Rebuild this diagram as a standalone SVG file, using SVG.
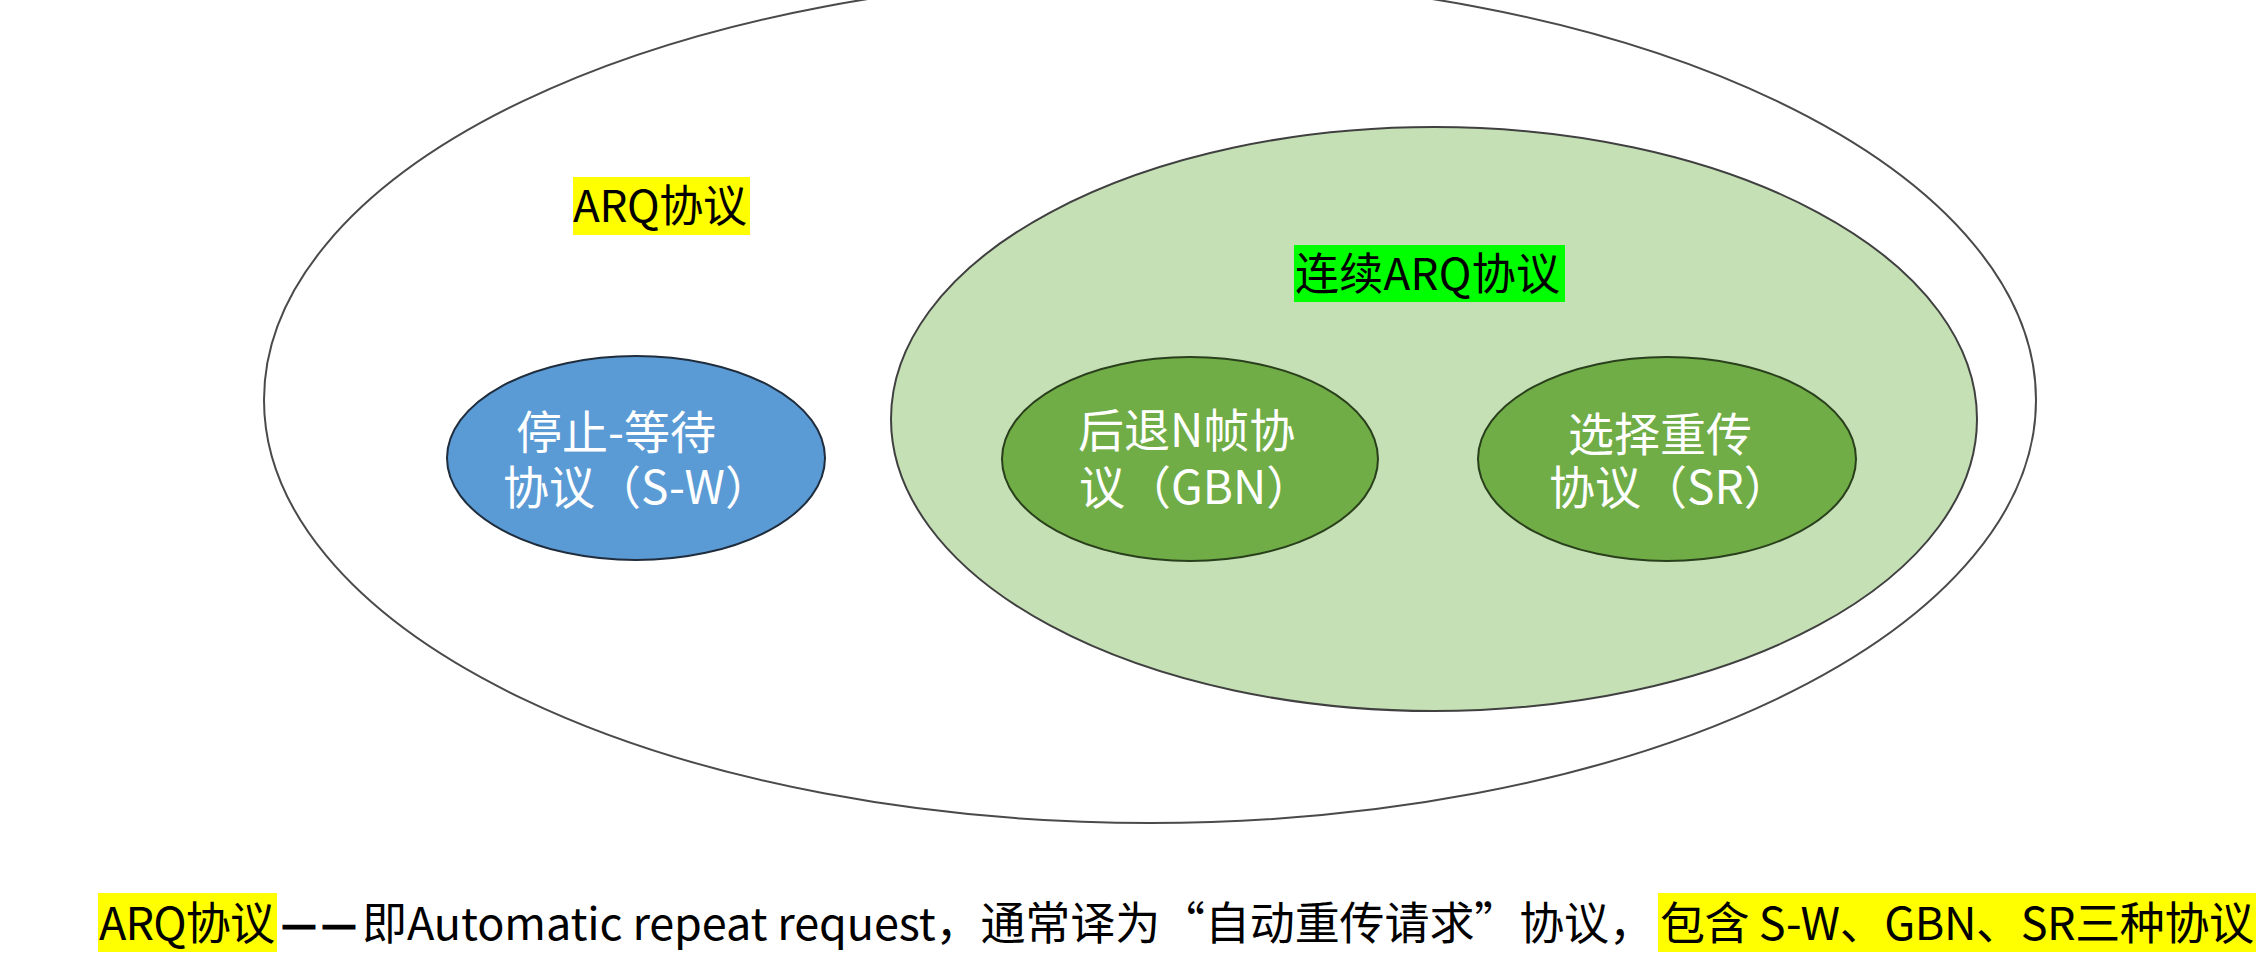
<svg xmlns="http://www.w3.org/2000/svg" width="2268" height="970" viewBox="0 0 2268 970">
  <style>
    .t { font-family: "Noto Sans CJK SC", "Noto Sans", sans-serif; }
    .w { fill: #ffffff; font-size: 46px; }
    .k { fill: #000000; font-size: 44px; }
    .b { fill: #000000; font-size: 45px; }
    .outer { fill: #ffffff; stroke: #4a4a4a; stroke-width: 2; }
    .cont { fill: #C5E0B4; stroke: #404040; stroke-width: 2; }
    .sw { fill: #5B9BD5; stroke: #1f2d3d; stroke-width: 2; }
    .gn { fill: #70AD47; stroke: #2a3f1c; stroke-width: 2; }
  </style>
  <rect x="0" y="0" width="2268" height="970" fill="#ffffff"/>

  <g id="arq">
    <ellipse class="outer" cx="1150" cy="400" rx="886" ry="423"/>
    <rect x="573" y="177" width="177" height="58" fill="#FFFF00"/>
    <text class="t k" x="573" y="222" textLength="174">ARQ协议</text>
  </g>

  <g id="continuous-arq">
    <ellipse class="cont" cx="1434" cy="419" rx="543" ry="292"/>
    <rect x="1294" y="245" width="271" height="57" fill="#00FF00"/>
    <text class="t k" x="1295" y="290" textLength="265">连续ARQ协议</text>
  </g>

  <g id="stop-wait">
    <ellipse class="sw" cx="636" cy="458" rx="189" ry="102"/>
    <text class="t w" x="516" y="449">停止-等待</text>
    <text class="t w" x="503" y="504">协议（S-W）</text>
  </g>

  <g id="gbn">
    <ellipse class="gn" cx="1190" cy="459" rx="188" ry="102"/>
    <text class="t w" x="1078" y="447">后退N帧协</text>
    <text class="t w" x="1079" y="504">议（GBN）</text>
  </g>

  <g id="sr">
    <ellipse class="gn" cx="1667" cy="459" rx="189" ry="102"/>
    <text class="t w" x="1568" y="451">选择重传</text>
    <text class="t w" x="1549" y="504">协议（SR）</text>
  </g>

  <g id="connectors"></g>

  <g id="caption">
    <rect x="98" y="893" width="179" height="59" fill="#FFFF00"/>
    <rect x="1658" y="893" width="598" height="59" fill="#FFFF00"/>
    <text class="t b" x="99" y="940" textLength="176">ARQ协议</text>
    <text class="t" x="281" y="938" font-size="38" fill="#000000" stroke="#000000" stroke-width="2.5"><tspan x="282">—</tspan><tspan x="322">—</tspan></text>
    <text class="t b" x="362" y="940" textLength="1292">即Automatic repeat request，通常译为“自动重传请求”协议，</text>
    <text class="t b" x="1660" y="940" textLength="594">包含 S-W、GBN、SR三种协议</text>
  </g>
</svg>
